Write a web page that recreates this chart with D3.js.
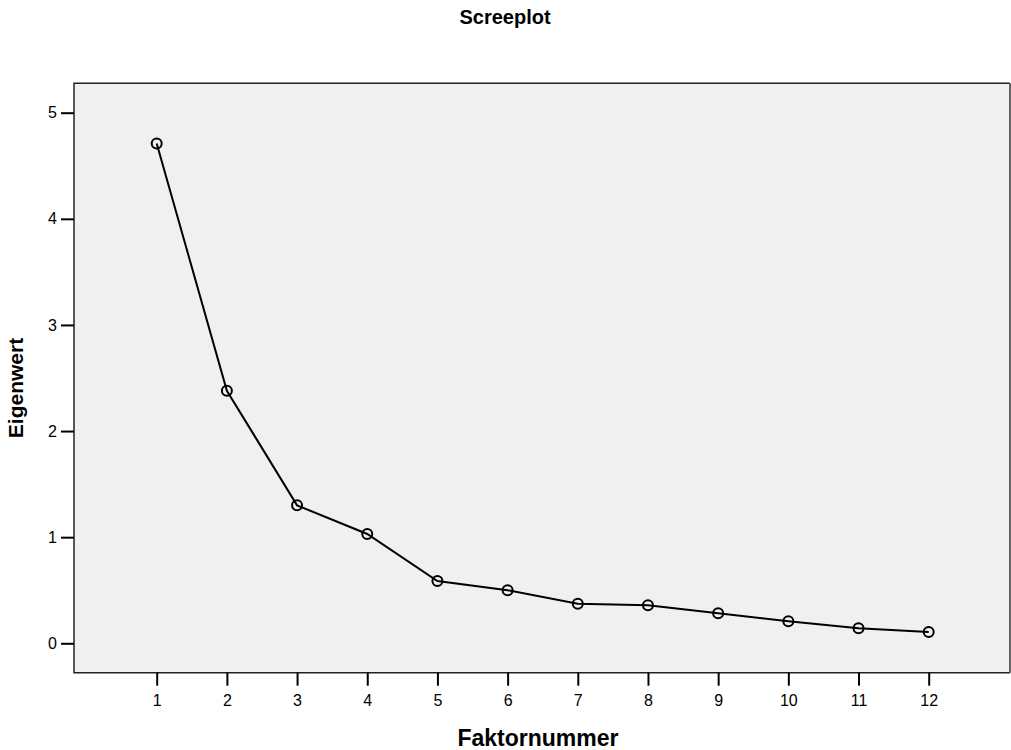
<!DOCTYPE html>
<html>
<head>
<meta charset="utf-8">
<script src="https://cdn.jsdelivr.net/npm/d3@7"></script>
<style>
  body { margin: 0; background: #fff; }
  text { font-family: "Liberation Sans", Arial, sans-serif; fill: #000; }
</style>
</head>
<body>
<svg id="chart" width="1011" height="750"></svg>
<script>
// Factor numbers and their eigenvalues
var factors = [1, 2, 3, 4, 5, 6, 7, 8, 9, 10, 11, 12];
var eigenvalues = [4.71, 2.38, 1.30, 1.03, 0.587, 0.50, 0.373, 0.358, 0.283, 0.207, 0.141, 0.106];
var yTicks = [0, 1, 2, 3, 4, 5];

var svg = d3.select('#chart');

// Plot frame
var frame = { left: 74, right: 1010, top: 83.3, bottom: 672.7 };

// Scales
var x = d3.scaleLinear().domain([1, 12]).range([156.7, 928.7]);
var y = d3.scaleLinear().domain([0, 5]).range([643.3, 112.7]);

// Background of the plot area
svg.append('rect')
    .attr('x', frame.left)
    .attr('y', frame.top)
    .attr('width', frame.right - frame.left)
    .attr('height', frame.bottom - frame.top)
    .attr('fill', '#f0f0f0')
    .attr('stroke', 'none');

// Frame lines (top, left, bottom dark; right grey)
svg.append('path')
    .attr('d', `M${frame.right},${frame.top}H${frame.left}V${frame.bottom}H${frame.right}`)
    .attr('fill', 'none')
    .attr('stroke', '#222')
    .attr('stroke-width', 1.5);
svg.append('line')
    .attr('x1', frame.right).attr('x2', frame.right)
    .attr('y1', frame.top).attr('y2', frame.bottom)
    .attr('stroke', '#666')
    .attr('stroke-width', 2);

// X axis
var xAxis = d3.axisBottom(x)
    .tickValues(factors)
    .tickSize(13)
    .tickPadding(9)
    .tickFormat(d3.format('d'));
var gx = svg.append('g')
    .attr('transform', `translate(0,${frame.bottom})`)
    .call(xAxis);
gx.select('.domain').remove();
gx.selectAll('.tick line').attr('stroke', '#000').attr('stroke-width', 2);
gx.selectAll('.tick text')
    .style('font-family', '"Liberation Sans", Arial, sans-serif')
    .style('font-size', '16px')
    .attr('fill', '#000');

// Y axis
var yAxis = d3.axisLeft(y)
    .tickValues(yTicks)
    .tickSize(13)
    .tickPadding(4)
    .tickFormat(d3.format('d'));
var gy = svg.append('g')
    .attr('transform', `translate(${frame.left},0)`)
    .call(yAxis);
gy.select('.domain').remove();
gy.selectAll('.tick line').attr('stroke', '#000').attr('stroke-width', 2);
gy.selectAll('.tick text')
    .style('font-family', '"Liberation Sans", Arial, sans-serif')
    .style('font-size', '16px')
    .attr('fill', '#000');

// Line through the eigenvalues
var points = factors.map(function(f, i) { return { f: f, v: eigenvalues[i] }; });
var line = d3.line()
    .x(function(d) { return x(d.f); })
    .y(function(d) { return y(d.v); });
svg.append('path')
    .datum(points)
    .attr('d', line)
    .attr('fill', 'none')
    .attr('stroke', '#000')
    .attr('stroke-width', 2);

// Circle markers
svg.selectAll('.marker')
    .data(points)
    .enter().append('circle')
    .attr('class', 'marker')
    .attr('cx', function(d) { return x(d.f); })
    .attr('cy', function(d) { return y(d.v); })
    .attr('r', 5)
    .attr('fill', 'none')
    .attr('stroke', '#000')
    .attr('stroke-width', 2);

// Title
svg.append('text')
    .attr('x', 505)
    .attr('y', 24)
    .attr('text-anchor', 'middle')
    .style('font-size', '20px')
    .style('font-weight', 'bold')
    .text('Screeplot');

// Axis titles
svg.append('text')
    .attr('x', 538)
    .attr('y', 746)
    .attr('text-anchor', 'middle')
    .style('font-size', '23px')
    .style('font-weight', 'bold')
    .text('Faktornummer');

svg.append('text')
    .attr('transform', 'translate(23,388) rotate(-90)')
    .attr('text-anchor', 'middle')
    .style('font-size', '21px')
    .style('font-weight', 'bold')
    .text('Eigenwert');
</script>
</body>
</html>
